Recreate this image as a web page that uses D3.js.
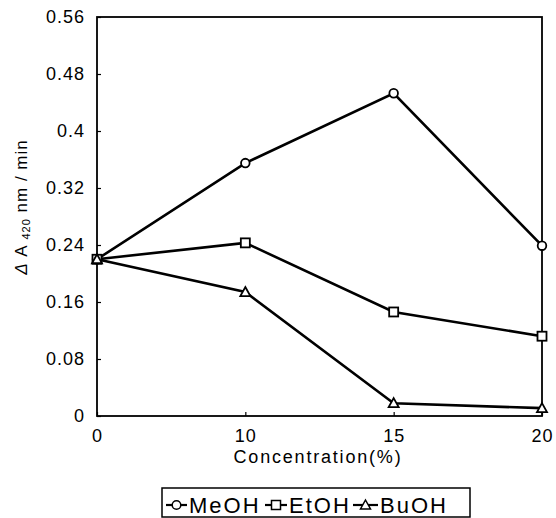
<!DOCTYPE html>
<html><head><meta charset="utf-8">
<script src="https://cdn.jsdelivr.net/npm/d3@7"></script>
<style>body{margin:0;background:#fff}svg{display:block}text{font-family:"Liberation Sans",Arial,sans-serif;fill:#000}</style>
</head><body><svg id="c" width="556" height="518"></svg>
<script>
const categories = ["0","10","15","20"];
const meoh = [0.22, 0.355, 0.453, 0.239];
const etoh = [0.22, 0.243, 0.146, 0.112];
const buoh = [0.22, 0.174, 0.018, 0.011];
const yTicks = [0, 0.08, 0.16, 0.24, 0.32, 0.4, 0.48, 0.56];
const seriesNames = ["MeOH","EtOH","BuOH"];
const markers = ["circle","square","triangle"];

const svg = d3.select("#c");
const L=97,R=542,T=17,B=416;
const x = d3.scalePoint().domain(categories).range([L,R]);
const y = d3.scaleLinear().domain([0,0.56]).range([B,T]);

// frame
svg.append("rect").attr("x",L).attr("y",T).attr("width",R-L).attr("height",B-T)
  .attr("fill","none").attr("stroke","#000").attr("stroke-width",1.8);

// y axis
const ya = svg.append("g").attr("transform",`translate(${L},0)`)
  .call(d3.axisLeft(y).tickValues(yTicks).tickSize(-4).tickPadding(12).tickFormat(d=>d3.format("")(+d.toFixed(2))));
ya.select(".domain").remove();
ya.selectAll("line").attr("stroke","#000").attr("stroke-width",1.2);
ya.selectAll("text").style("font-size","18px").style("letter-spacing","1px");

// x axis
const xa = svg.append("g").attr("transform",`translate(0,${B})`)
  .call(d3.axisBottom(x).tickSize(-4).tickPadding(13));
xa.select(".domain").remove();
xa.selectAll("line").attr("stroke","#000").attr("stroke-width",1.2);
xa.selectAll("text").style("font-size","18px").style("letter-spacing","1px");

svg.append("text").attr("x",318).attr("y",463).attr("text-anchor","middle")
  .style("font-size","18px").style("letter-spacing","1.8px").text("Concentration(%)");

const yl = svg.append("text").attr("transform","translate(27,207) rotate(-90)")
  .attr("text-anchor","middle").style("font-size","17px").style("letter-spacing","1px");
yl.append("tspan").style("font-style","italic").text("Δ");
yl.append("tspan").text(" A ");
yl.append("tspan").attr("dy",3).style("font-size","11px").text("420");
yl.append("tspan").attr("dy",-3).text(" nm / min");

const data = [meoh, etoh, buoh];
const line = d3.line().x((d,i)=>x(categories[i])).y(d=>y(d));

function marker(g, type, cx, cy){
  if(type==="circle") g.append("circle").attr("cx",cx).attr("cy",cy).attr("r",4.3);
  else if(type==="square") g.append("rect").attr("x",cx-4.5).attr("y",cy-4.5).attr("width",9).attr("height",9);
  else g.append("path").attr("d",`M${cx},${cy-5}L${cx+5},${cy+4}L${cx-5},${cy+4}Z`);
}

data.forEach((s,k)=>{
  svg.append("path").datum(s).attr("d",line).attr("fill","none").attr("stroke","#000").attr("stroke-width",2.6);
});
data.forEach((s,k)=>{
  const g = svg.append("g").attr("fill","#fff").attr("stroke","#000").attr("stroke-width",1.8);
  s.forEach((v,i)=>marker(g, markers[k], x(categories[i]), y(v)));
});

// legend
const lg = svg.append("g");
lg.append("rect").attr("x",162).attr("y",488).attr("width",308).attr("height",29)
  .attr("fill","#fff").attr("stroke","#000").attr("stroke-width",1.5);
const lx = [166, 265, 353];
const lw = [21, 22, 25];
seriesNames.forEach((n,k)=>{
  const cy = 505;
  lg.append("line").attr("x1",lx[k]).attr("x2",lx[k]+lw[k]).attr("y1",cy).attr("y2",cy).attr("stroke","#000").attr("stroke-width",2.2);
  const g = lg.append("g").attr("fill","#fff").attr("stroke","#000").attr("stroke-width",1.5);
  marker(g, markers[k], lx[k]+lw[k]/2, cy);
  lg.append("text").attr("x",lx[k]+lw[k]+2).attr("y",cy+8).style("font-size","22px").style("letter-spacing","2px").text(n);
});
</script></body></html>
